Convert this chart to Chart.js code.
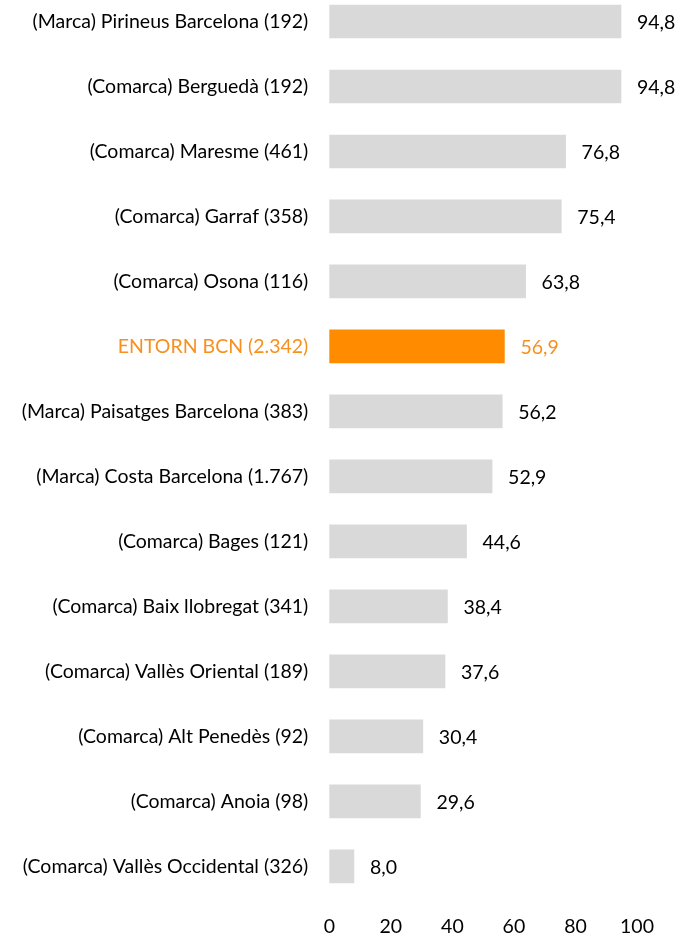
<!DOCTYPE html>
<html>
<head>
<meta charset="utf-8">
<script src="https://cdn.jsdelivr.net/npm/chart.js@4.4.1/dist/chart.umd.min.js"></script>
<style>
  html, body { margin: 0; padding: 0; background: #fff; overflow: hidden; }
  #wrap { position: absolute; left: 0; top: -11px; width: 678px; height: 946px; }
</style>
</head>
<body>
<div id="wrap"><canvas id="c" width="678" height="946"></canvas></div>
<script>
const categories = [
  "(Marca) Pirineus Barcelona (192)",
  "(Comarca) Berguedà (192)",
  "(Comarca) Maresme (461)",
  "(Comarca) Garraf (358)",
  "(Comarca) Osona (116)",
  "ENTORN BCN (2.342)",
  "(Marca) Paisatges Barcelona (383)",
  "(Marca) Costa Barcelona (1.767)",
  "(Comarca) Bages (121)",
  "(Comarca) Baix llobregat (341)",
  "(Comarca) Vallès Oriental (189)",
  "(Comarca) Alt Penedès (92)",
  "(Comarca) Anoia (98)",
  "(Comarca) Vallès Occidental (326)"
];
const values = [94.8, 94.8, 76.8, 75.4, 63.8, 56.9, 56.2, 52.9, 44.6, 38.4, 37.6, 30.4, 29.6, 8.0];
const highlightLabel = "ENTORN BCN (2.342)";
const xTicks = [0, 20, 40, 60, 80, 100];

const GREY = '#D9D9D9';
const ORANGE = '#FF8C00';
const ORANGE_TEXT = '#F7901E';
const FONT = 'Lato, "Open Sans", sans-serif';
const FS = 19.5;

const TARGET_TOP = 0;
const TARGET_BOTTOM = 909.8;

const isHi = i => categories[i] === highlightLabel;

const valueLabels = {
  id: 'valueLabels',
  afterDatasetsDraw(chart) {
    const ctx = chart.ctx;
    const meta = chart.getDatasetMeta(0);
    ctx.save();
    ctx.font = FS + 'px ' + FONT;
    ctx.textAlign = 'left';
    ctx.textBaseline = 'middle';
    meta.data.forEach((bar, i) => {
      ctx.fillStyle = isHi(i) ? ORANGE_TEXT : '#000';
      ctx.fillText(values[i].toFixed(1).replace('.', ','), bar.x + 16, bar.y + 1);
    });
    ctx.restore();
  }
};

const chart = new Chart(document.getElementById('c'), {
  type: 'bar',
  data: {
    labels: categories,
    datasets: [{
      data: values,
      backgroundColor: categories.map((c, i) => isHi(i) ? ORANGE : GREY),
      borderWidth: 0,
      barThickness: 33
    }]
  },
  options: {
    indexAxis: 'y',
    responsive: false,
    animation: false,
    layout: { padding: { top: 0, right: 41, left: 0, bottom: 0 } },
    plugins: { legend: { display: false }, tooltip: { enabled: false } },
    scales: {
      x: {
        min: 0, max: 100,
        afterBuildTicks(scale) { scale.ticks = xTicks.map(v => ({ value: v })); },
        afterFit(scale) { scale.height = 36; scale.paddingTop = 0; scale.paddingBottom = 0; },
        grid: { display: false, drawTicks: false },
        border: { display: false },
        ticks: { color: '#000', font: { family: FONT, size: FS }, padding: 16, maxRotation: 0 }
      },
      y: {
        afterFit(scale) { scale.width = 329.3; scale.paddingTop = 0; scale.paddingBottom = 0; },
        grid: { display: false, drawTicks: false },
        border: { display: false },
        ticks: {
          color: ctx => isHi(ctx.index) ? ORANGE_TEXT : '#000',
          font: { family: FONT, size: FS },
          padding: 21,
          autoSkip: false
        }
      }
    }
  },
  plugins: [valueLabels]
});

for (let k = 0; k < 3; k++) {
  const ca = chart.chartArea;
  const p = chart.options.layout.padding;
  p.top = Math.max(0, p.top + TARGET_TOP - ca.top);
  p.bottom = Math.max(0, p.bottom + ca.bottom - TARGET_BOTTOM);
  chart.update('none');
}
</script>
</body>
</html>
